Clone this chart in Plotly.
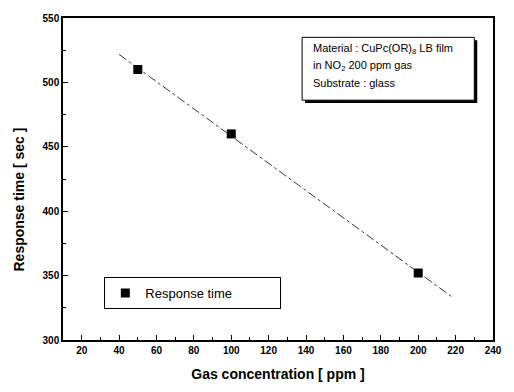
import numpy as np
import plotly.graph_objects as go

# Data
gas_ppm = [50, 100, 200]
response_sec = [510, 460, 352]
fit_x_range = [40, 218]

info_lines = [
    "Material : CuPc(OR)<sub>8</sub> LB film",
    "in NO<sub>2</sub> 200 ppm gas",
    "Substrate : glass",
]

slope, intercept = np.polyfit(gas_ppm, response_sec, 1)
fit_x = np.array(fit_x_range)
fit_y = slope * fit_x + intercept

fig = go.Figure()
fig.add_trace(go.Scatter(
    x=fit_x, y=fit_y, mode="lines",
    line=dict(color="#333333", width=1, dash="dashdot"),
    showlegend=False, hoverinfo="skip"))
fig.add_trace(go.Scatter(
    x=gas_ppm, y=response_sec, mode="markers",
    marker=dict(symbol="square", size=9, color="black"),
    name="Response time"))

font = "Liberation Sans, Arial, sans-serif"

# plot area in px: x 63..500, y 13..346
def px(xp):
    return (xp - 63) / 437
def py(yp):
    return (346 - yp) / 333

shapes = [
    # shadow
    dict(type="rect", xref="paper", yref="paper",
         x0=px(309), x1=px(484), y0=py(101), y1=py(36),
         fillcolor="black", line=dict(width=0), layer="above"),
    # box
    dict(type="rect", xref="paper", yref="paper",
         x0=px(306), x1=px(481), y0=py(98), y1=py(33),
         fillcolor="white", line=dict(color="black", width=1), layer="above"),
]

annotations = []
for txt, yp in zip(info_lines, [45, 63, 80]):
    annotations.append(dict(
        xref="paper", yref="paper", x=px(315), y=py(yp),
        xanchor="left", yanchor="middle", text=txt, showarrow=False,
        font=dict(size=11, family=font)))
annotations.append(dict(
    xref="paper", yref="paper", x=-0.103, y=py(201),
    xanchor="center", yanchor="middle", textangle=-90,
    text="<b>Response time [ sec ]</b>", showarrow=False,
    font=dict(size=14, family=font)))

fig.update_layout(
    width=514, height=392,
    margin=dict(l=63, r=14, t=13, b=46),
    paper_bgcolor="white", plot_bgcolor="white",
    font=dict(family=font, color="black"),
    legend=dict(
        x=px(105), y=py(281), xanchor="left", yanchor="top",
        orientation="h", entrywidth=130,
        bordercolor="black", borderwidth=1,
        font=dict(size=13, family=font),
        bgcolor="white"),
    shapes=shapes,
    annotations=annotations,
)

fig.update_xaxes(
    range=[10, 240], tickmode="linear", tick0=20, dtick=20,
    ticks="inside", ticklen=5, tickcolor="black", tickwidth=1,
    minor=dict(ticks="inside", ticklen=3, dtick=10, tick0=10, tickcolor="black"),
    showline=True, linecolor="black", linewidth=1.5, mirror=True,
    showgrid=False, zeroline=False,
    tickfont=dict(size=10, weight="bold"),
    title=dict(text="<b>Gas concentration [ ppm ]</b>", font=dict(size=14), standoff=14))
fig.update_yaxes(
    range=[300, 550], tickmode="linear", tick0=300, dtick=50,
    ticks="inside", ticklen=5, tickcolor="black", tickwidth=1,
    minor=dict(ticks="inside", ticklen=3, dtick=25, tickcolor="black"),
    showline=True, linecolor="black", linewidth=1.5, mirror=True,
    showgrid=False, zeroline=False,
    tickfont=dict(size=10, weight="bold"))

fig.write_html("out.html")
